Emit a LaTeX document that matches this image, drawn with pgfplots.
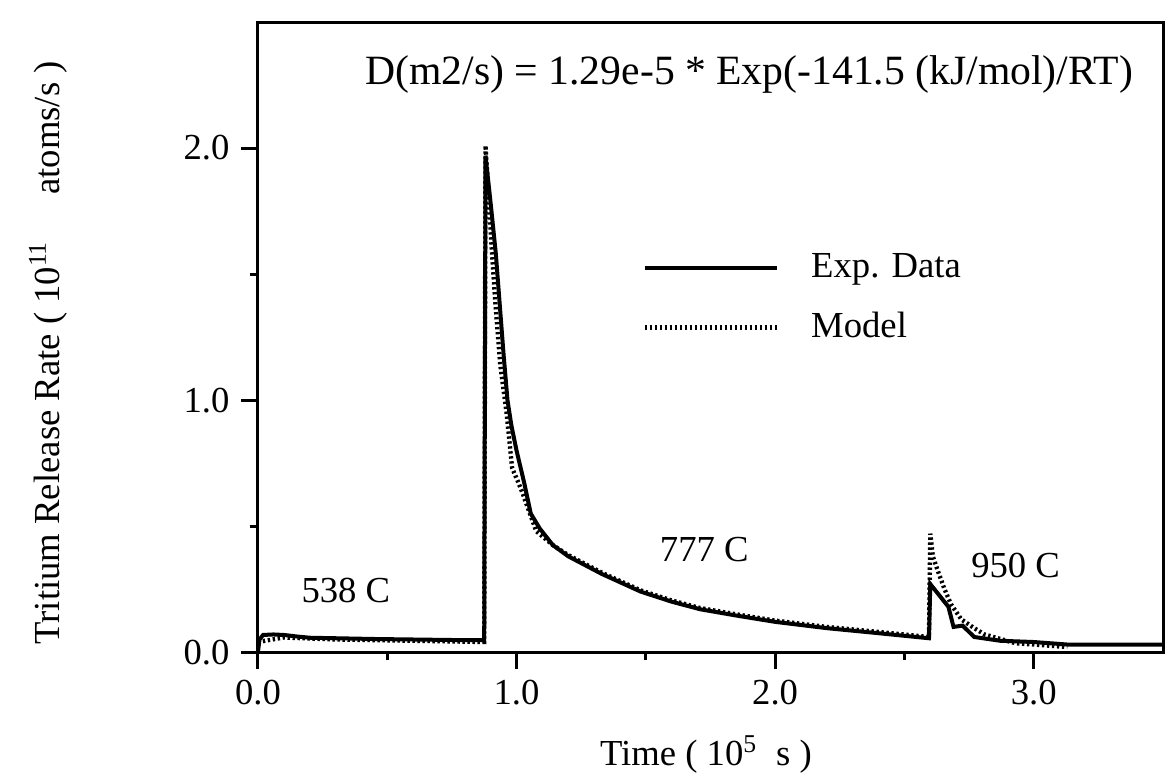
\documentclass[border=0pt]{standalone}
\usepackage{fontspec}
\setmainfont{Liberation Serif}
\usepackage{pgfplots}
\usepackage{pgfplotstable}
\pgfplotsset{compat=1.18}

% experimental release rate (10^11 atoms/s) vs time (10^5 s)
\pgfplotstableread{
x      y
0.000  0.000
0.006  0.050
0.020  0.068
0.060  0.070
0.100  0.068
0.150  0.062
0.200  0.057
0.300  0.055
0.450  0.052
0.600  0.050
0.750  0.048
0.875  0.047
0.880  1.970
0.900  1.780
0.920  1.580
0.935  1.380
0.950  1.180
0.965  1.000
0.980  0.900
1.000  0.800
1.030  0.670
1.055  0.550
1.090  0.490
1.140  0.425
1.200  0.380
1.330  0.310
1.480  0.240
1.600  0.200
1.710  0.170
1.850  0.145
2.000  0.120
2.200  0.095
2.400  0.075
2.595  0.055
2.600  0.270
2.670  0.180
2.690  0.100
2.725  0.105
2.770  0.060
2.870  0.045
3.000  0.040
3.130  0.030
3.500  0.030
}\expdata

% diffusion model
\pgfplotstableread{
x      y
0.000  0.040
0.100  0.058
0.300  0.050
0.600  0.045
0.875  0.040
0.880  2.010
0.904  1.600
0.917  1.400
0.937  1.140
0.962  0.944
0.983  0.730
1.004  0.680
1.020  0.640
1.076  0.480
1.140  0.425
1.200  0.385
1.330  0.315
1.480  0.245
1.600  0.205
1.710  0.175
1.850  0.150
2.000  0.125
2.200  0.100
2.400  0.080
2.595  0.060
2.600  0.470
2.610  0.380
2.630  0.320
2.655  0.250
2.680  0.190
2.720  0.130
2.770  0.095
2.810  0.070
2.930  0.035
3.000  0.030
3.130  0.020
}\modeldata

\begin{document}
\begin{tikzpicture}
\begin{axis}[
    scale only axis,
    width=271.5pt, height=189pt,
    xmin=0, xmax=3.5, ymin=0, ymax=2.5,
    axis line style={line width=0.9pt},
    xtick={0,1,2,3}, minor xtick={0.5,1.5,2.5},
    ytick={0,1,2}, minor ytick={0.5,1.5},
    xtick pos=bottom, ytick pos=left,
    tick align=outside,
    major tick length=5pt, minor tick length=2.5pt,
    every tick/.style={line width=0.9pt, black},
    /pgf/number format/assume math mode=true,
    xticklabel={\pgfmathprintnumber[fixed,fixed zerofill,precision=1]{\tick}},
    yticklabel={\pgfmathprintnumber[fixed,fixed zerofill,precision=1]{\tick}},
    tick label style={font=\fontsize{11}{13}\selectfont},
    xlabel={Time ( 10\textsuperscript{5} \ s )},
    ylabel={Tritium Release Rate ( 10\textsuperscript{11} \quad atoms/s )},
    xlabel style={at={(axis description cs:0.495,-0.162)}, anchor=center, font=\fontsize{11}{13}\selectfont},
    ylabel style={at={(axis description cs:-0.232,0.475)}, anchor=center, font=\fontsize{11}{13}\selectfont},
    legend style={at={(axis cs:1.484,1.405)}, anchor=west, draw=none, fill=none,
        inner sep=0pt, row sep=5pt, font=\fontsize{11}{13}\selectfont,
        cells={anchor=west}},
    legend image code/.code={\draw[#1] (0pt,0pt) -- (39.6pt,0pt); \path[draw=none] (0pt,0pt) -- (48pt,0pt);},
]
\addplot[black, line width=1.2pt] table[x=x, y=y] {\expdata};
\addlegendentry{Exp. Data}
\addplot[black, line width=1.3pt, dash pattern=on 0.7pt off 0.8pt] table[x=x, y=y] {\modeldata};
\addlegendentry{Model}

\node[font=\fontsize{12.5}{14}\selectfont] at (axis cs:1.90,2.29) {D(m2/s) = 1.29e-5 * Exp(-141.5 (kJ/mol)/RT)};
\node[font=\fontsize{11}{13}\selectfont] at (axis cs:0.34,0.246) {538 C};
\node[font=\fontsize{11}{13}\selectfont] at (axis cs:1.726,0.405) {777 C};
\node[font=\fontsize{11}{13}\selectfont] at (axis cs:2.93,0.345) {950 C};

\coordinate (bl) at (axis description cs:-0.285,-0.203);
\coordinate (tr) at (axis description cs:1.0022,1.035);
\end{axis}
\pgfresetboundingbox
\useasboundingbox (bl) rectangle (tr);
\end{tikzpicture}
\end{document}
